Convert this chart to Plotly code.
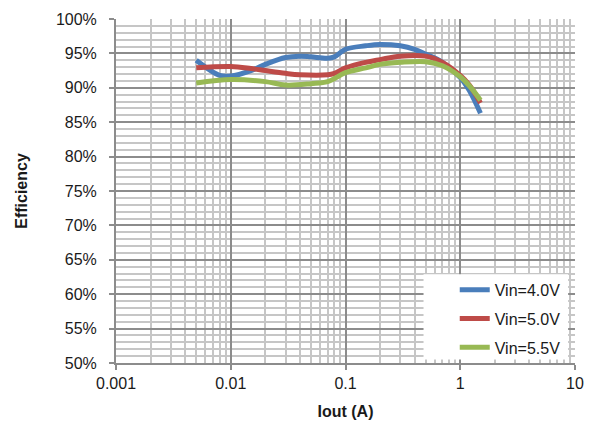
import plotly.graph_objects as go

iout_blue = [0.005, 0.008, 0.01, 0.015, 0.02, 0.03, 0.04, 0.05, 0.07, 0.08, 0.1, 0.15, 0.2, 0.3, 0.4, 0.5, 0.7, 1.0, 1.2, 1.5]
eff_blue = [94.0, 91.8, 91.7, 92.5, 93.4, 94.4, 94.6, 94.5, 94.3, 94.5, 95.6, 96.1, 96.3, 96.1, 95.6, 94.9, 93.7, 91.5, 89.6, 86.3]

iout_red = [0.005, 0.01, 0.015, 0.02, 0.03, 0.04, 0.07, 0.08, 0.1, 0.15, 0.2, 0.3, 0.5, 0.7, 1.0, 1.2, 1.5]
eff_red = [92.9, 93.1, 92.8, 92.5, 92.1, 91.9, 91.9, 92.1, 92.9, 93.7, 94.1, 94.6, 94.6, 93.7, 91.8, 90.4, 87.8]

iout_green = [0.005, 0.01, 0.02, 0.03, 0.05, 0.07, 0.1, 0.15, 0.2, 0.3, 0.5, 0.7, 1.0, 1.2, 1.5]
eff_green = [90.7, 91.2, 90.9, 90.4, 90.6, 90.9, 92.2, 92.9, 93.4, 93.7, 93.8, 93.2, 91.6, 90.3, 88.2]

names = ["Vin=4.0V", "Vin=5.0V", "Vin=5.5V"]
colors = ["#4A7EBB", "#BE4B48", "#98B954"]

x_tick_vals = [0.001, 0.01, 0.1, 1, 10]
x_tick_text = ["0.001", "0.01", "0.1", "1", "10"]
x_minor_vals = [m * 10 ** e for e in range(-3, 1) for m in range(2, 10)]

fig = go.Figure()
for xs, ys, n, c in zip([iout_blue, iout_red, iout_green],
                        [eff_blue, eff_red, eff_green], names, colors):
    fig.add_trace(go.Scatter(
        x=xs, y=[v / 100 for v in ys], name=n, mode="lines", legendgroup=n,
        line=dict(color=c, width=5, shape="spline", smoothing=1.0),
    ))

font_family = "Liberation Sans, Arial, sans-serif"
major_col = "#8C8C8C"
minor_col = "#C6C6C6"

# white legend panel covering the grid
fig.add_shape(type="rect", xref="paper", yref="paper",
              x0=0.67, x1=0.985, y0=0.01, y1=0.258,
              fillcolor="white", line=dict(width=0), layer="above")

fig.update_layout(
    width=595, height=429,
    margin=dict(l=116, r=11, t=16, b=66),
    paper_bgcolor="white", plot_bgcolor="white",
    font=dict(family=font_family, size=16, color="#1a1a1a"),
    showlegend=True,
    legend=dict(
        x=0.738, y=0.262, xanchor="left", yanchor="top",
        bgcolor="rgba(0,0,0,0)", borderwidth=0,
        font=dict(size=16), itemwidth=30, tracegroupgap=5,
        traceorder="grouped",
    ),
    xaxis=dict(
        type="log", range=[-3, 1],
        tickmode="array", tickvals=x_tick_vals, ticktext=x_tick_text,
        showgrid=True, gridcolor=major_col, gridwidth=2,
        ticks="outside", ticklen=5, tickwidth=2, tickcolor=major_col,
        showline=True, linecolor=major_col, linewidth=2,
        minor=dict(tickmode="array", tickvals=x_minor_vals, showgrid=True,
                   gridcolor=minor_col, gridwidth=2, ticks=""),
        title=dict(text="<b>Iout (A)</b>", font=dict(size=16), standoff=15),
        zeroline=False,
    ),
    yaxis=dict(
        range=[0.5, 1.0], tickformat=".0%", dtick=0.05, tick0=0.5,
        showgrid=True, gridcolor=major_col, gridwidth=2,
        ticks="outside", ticklen=5, tickwidth=2, tickcolor=major_col,
        ticklabelstandoff=9,
        showline=True, linecolor=major_col, linewidth=2,
        minor=dict(dtick=0.01, showgrid=True, gridcolor=minor_col, gridwidth=2, ticks=""),
        title=dict(text="<b>Efficiency</b>", font=dict(size=16), standoff=24),
        zeroline=False,
    ),
)

fig.write_html("out.html")
